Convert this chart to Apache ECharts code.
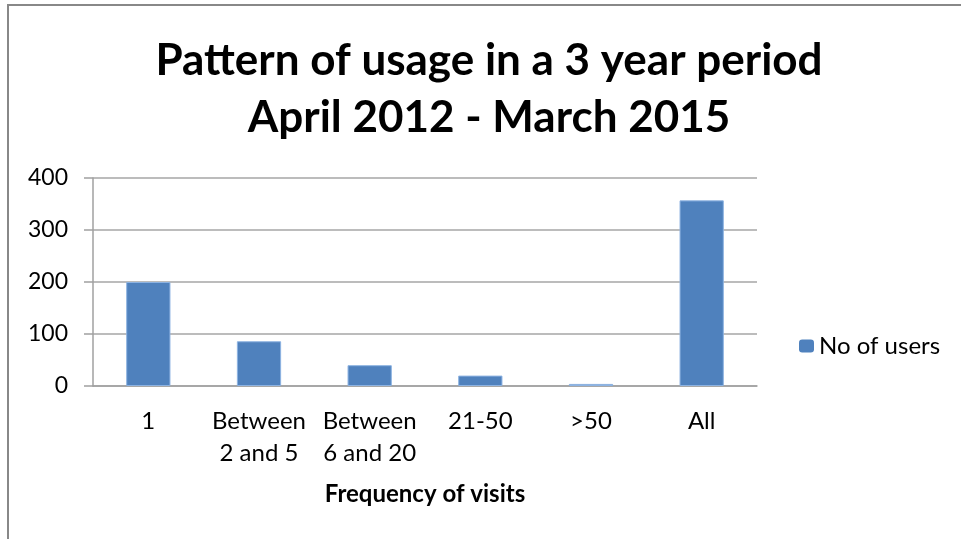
<!DOCTYPE html>
<html>
<head>
<meta charset="utf-8">
<script src="https://cdn.jsdelivr.net/npm/echarts@6/dist/echarts.min.js"></script>
<style>
  html, body { margin: 0; padding: 0; background: #fff; }
  #chart { width: 961px; height: 539px; }
</style>
</head>
<body>
<div id="chart"></div>
<script>
// categories and values
const categorias = ['1', 'Between\n2 and 5', 'Between\n6 and 20', '21-50', '>50', 'All'];
const usuarios = [200, 86, 40, 20, 4, 357];
const ticks_y = [0, 100, 200, 300, 400];

const fuente = 'Lato, "Open Sans", sans-serif';

var myChart = echarts.init(document.getElementById('chart'));
var option = {
    animation: false,
    textStyle: { fontFamily: fuente },
    title: {
        text: 'Pattern of usage in a 3 year period\nApril 2012 - March 2015',
        left: 489,
        textAlign: 'center',
        top: 32,
        padding: 0,
        textStyle: {
            fontFamily: fuente,
            fontSize: 44,
            fontWeight: 'bold',
            color: '#000',
            lineHeight: 57
        }
    },
    legend: {
        data: ['No of users'],
        left: 799,
        top: 334,
        padding: 0,
        itemWidth: 15,
        itemHeight: 13,
        itemGap: 8,
        itemStyle: { borderWidth: 0 },
        textStyle: { fontFamily: fuente, fontSize: 24, color: '#000', lineHeight: 24 }
    },
    grid: {
        left: 93,
        right: 204,
        top: 178,
        bottom: 153
    },
    xAxis: {
        type: 'category',
        data: categorias,
        name: 'Frequency of visits',
        nameLocation: 'middle',
        nameGap: 96,
        nameTextStyle: { fontFamily: fuente, fontSize: 24, fontWeight: 'bold', color: '#000' },
        axisLine: { lineStyle: { color: '#a0a0a0', width: 1.5 } },
        axisTick: { length: 9, lineStyle: { color: '#a0a0a0', width: 1.5 } },
        axisLabel: {
            interval: 0,
            margin: 19,
            fontSize: 24,
            lineHeight: 32,
            color: '#000',
            verticalAlign: 'top'
        }
    },
    yAxis: {
        type: 'value',
        min: ticks_y[0],
        max: ticks_y[ticks_y.length - 1],
        interval: 100,
        axisLine: { show: true, lineStyle: { color: '#a0a0a0', width: 1.5 } },
        axisTick: { show: true, length: 9, lineStyle: { color: '#a0a0a0', width: 1.5 } },
        splitLine: { lineStyle: { color: '#a6a6a6', width: 1.5 } },
        axisLabel: { margin: 25, fontSize: 23, color: '#000' }
    },
    series: [{
        name: 'No of users',
        type: 'bar',
        data: usuarios,
        barWidth: '40%',
        itemStyle: { color: '#4f81bd', borderColor: '#8db3e2', borderWidth: 1 }
    }],
    graphic: [{
        type: 'rect',
        shape: { x: 8, y: 5, width: 1000, height: 600 },
        style: { fill: 'none', stroke: '#888', lineWidth: 2 },
        silent: true
    }]
};
myChart.setOption(option);
</script>
</body>
</html>
